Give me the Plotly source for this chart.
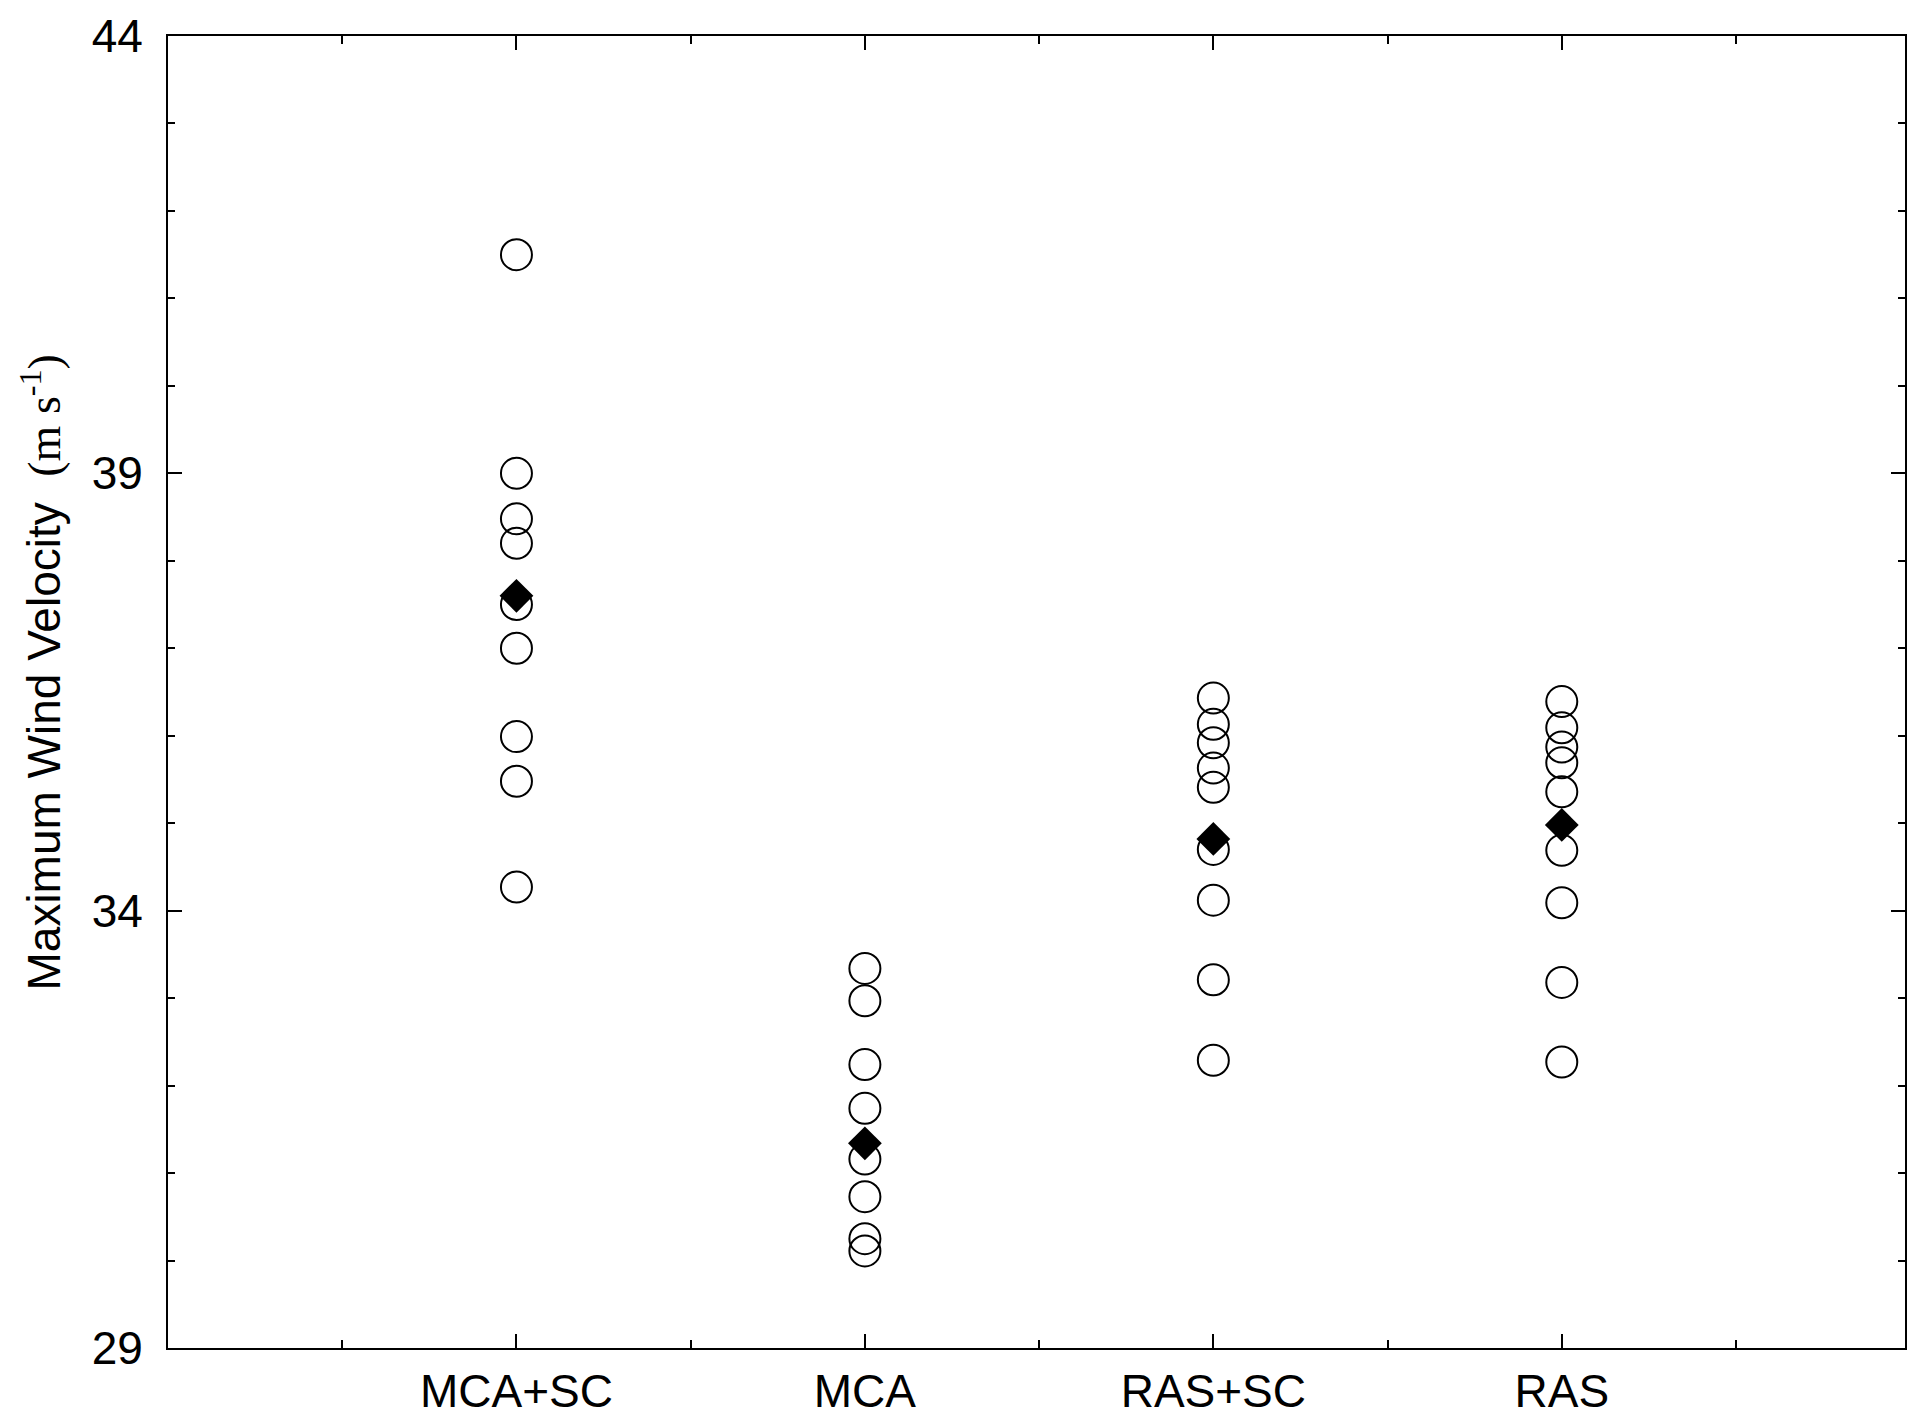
import plotly.graph_objects as go

categories = ["MCA+SC", "MCA", "RAS+SC", "RAS"]
cat_pos = [1, 2, 3, 4]

mca_sc = [41.5, 39.0, 38.48, 38.2, 37.5, 37.0, 35.99, 35.48, 34.27]
mca = [33.34, 32.97, 32.24, 31.74, 31.16, 30.73, 30.25, 30.11]
ras_sc = [36.43, 36.13, 35.92, 35.63, 35.41, 34.70, 34.12, 33.21, 32.29]
ras = [36.39, 36.09, 35.87, 35.69, 35.36, 34.69, 34.09, 33.18, 32.27]
means = [37.6, 31.34, 34.82, 34.98]

members = [mca_sc, mca, ras_sc, ras]

y_ticks = [29, 34, 39, 44]

fig = go.Figure()

for pos, vals in zip(cat_pos, members):
    fig.add_trace(go.Scatter(
        x=[pos] * len(vals), y=vals, mode="markers",
        marker=dict(symbol="circle-open", size=31, color="black",
                    line=dict(width=2, color="black")),
        showlegend=False, hoverinfo="y"))

fig.add_trace(go.Scatter(
    x=cat_pos, y=means, mode="markers",
    marker=dict(symbol="diamond", size=26, color="black",
                line=dict(width=0)),
    showlegend=False, hoverinfo="y"))

fig.update_xaxes(
    range=[0, 4.985], tickvals=cat_pos, ticktext=categories,
    ticks="inside", ticklen=14, tickwidth=2, tickcolor="black",
    showline=True, linecolor="black", linewidth=2, mirror="ticks",
    showgrid=False, zeroline=False,
    tickfont=dict(family="Liberation Sans, Arial, sans-serif", size=46, color="black"),
    ticklabelstandoff=2,
    minor=dict(tickvals=[0.5, 1.5, 2.5, 3.5, 4.5], ticks="inside", ticklen=8,
               tickwidth=2, tickcolor="black", showgrid=False),
)
fig.update_yaxes(
    range=[29, 44], tickvals=y_ticks,
    ticks="inside", ticklen=14, tickwidth=2, tickcolor="black",
    showline=True, linecolor="black", linewidth=2, mirror="ticks",
    showgrid=False, zeroline=False,
    tickfont=dict(family="Liberation Sans, Arial, sans-serif", size=46, color="black"),
    ticklabelstandoff=14,
    minor=dict(dtick=1, tick0=29, ticks="inside", ticklen=7, tickwidth=2,
               tickcolor="black", showgrid=False),
)

fig.add_annotation(
    xref="paper", yref="paper", x=-0.073, y=0.515,
    text="Maximum Wind Velocity  <span style=\"font-family:'Liberation Serif', 'Times New Roman', serif\">(m s<sup>-1</sup>)</span>",
    textangle=-90, showarrow=False, xanchor="center", yanchor="middle",
    font=dict(family="Liberation Sans, Arial, sans-serif", size=46, color="black"),
)

fig.update_layout(
    width=1907, height=1422,
    margin=dict(l=168, r=0, t=36, b=74),
    paper_bgcolor="white", plot_bgcolor="white",
)

fig.write_html("out.html")
